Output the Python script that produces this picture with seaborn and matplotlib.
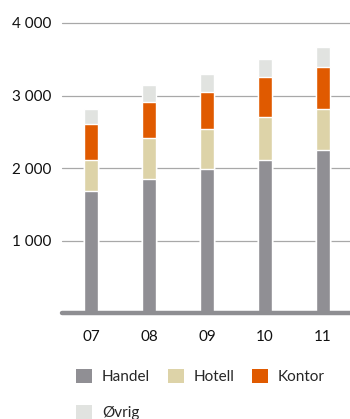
import matplotlib
matplotlib.use("Agg")
import matplotlib.pyplot as plt
from matplotlib.patches import Patch
import pandas as pd
import seaborn as sns

# Stacked values per year (thousand m²)
years = ["07", "08", "09", "10", "11"]
handel = [1690, 1850, 1990, 2115, 2250]
hotell = [425, 570, 550, 595, 565]
kontor = [495, 495, 510, 540, 580]
ovrig = [205, 235, 250, 250, 275]

series_names = ["Handel", "Hotell", "Kontor", "Øvrig"]
series_colors = ["#908f94", "#ddd3a8", "#e05a00", "#e1e3e0"]
y_ticks = [1000, 2000, 3000, 4000]
y_labels = ["1 000", "2 000", "3 000", "4 000"]

sns.set_theme(style="white")
plt.rcParams["font.family"] = ["Lato", "DejaVu Sans"]

df = pd.DataFrame({"year": years, "Handel": handel, "Hotell": hotell,
                   "Kontor": kontor, "Øvrig": ovrig})

fig = plt.figure(figsize=(3.5, 4.19), dpi=100)
ax = fig.add_axes([62 / 350, 1 - 313.3 / 419, 1 - 62 / 350, (313.3 - 23) / 419])

# Draw cumulative totals from the top layer down so each layer covers the one above
cum = df[series_names].cumsum(axis=1)
for name, color in reversed(list(zip(series_names, series_colors))):
    sns.barplot(x=df["year"], y=cum[name], color=color, width=0.24,
                saturation=1, ax=ax, zorder=3)

ax.set_xlim(-0.5, 4.466)
ax.set_ylim(0, 4000)
ax.set_xlabel("")
ax.set_ylabel("")
ax.set_yticks(y_ticks)
ax.set_yticklabels(y_labels)
for t in y_ticks:
    ax.axhline(t, color="#a8a8a8", linewidth=0.9, zorder=1, clip_on=False)
ax.axhline(0, color="#8e8e92", linewidth=3.2, zorder=4, clip_on=False)

for s in ax.spines.values():
    s.set_visible(False)
ax.tick_params(axis="both", length=0, labelsize=11, colors="#111111")
ax.tick_params(axis="y", pad=8)
ax.tick_params(axis="x", pad=12)

# Legend laid out row by row: Handel, Hotell, Kontor / Øvrig
handles = {n: Patch(facecolor=c, edgecolor="none", label=n)
           for n, c in zip(series_names, series_colors)}
legend_order = ["Handel", "Øvrig", "Hotell", "Kontor"]
fig.legend(handles=[handles[n] for n in legend_order], loc="upper left",
           ncol=3, frameon=False,
           bbox_to_anchor=(76 / 350, 1 - 369 / 419), fontsize=11,
           handlelength=1.05, handleheight=1.05, handletextpad=0.65,
           columnspacing=1.15, labelspacing=1.35, borderpad=0,
           borderaxespad=0)

fig.savefig("out.png", dpi=100)
